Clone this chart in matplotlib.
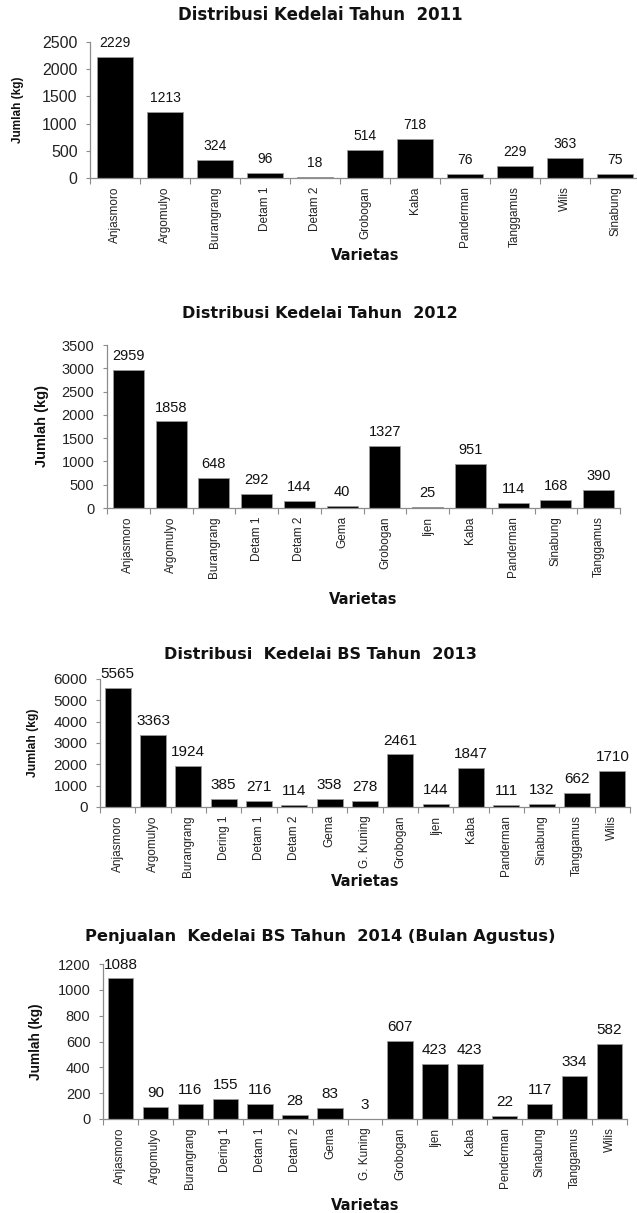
import numpy as np
import matplotlib
matplotlib.use('Agg')
import matplotlib.pyplot as plt
from matplotlib import font_manager
from matplotlib.ticker import MultipleLocator, FixedLocator, NullFormatter

W, H = 637, 1213

# --- data ---------------------------------------------------------------
var_2011 = ['Anjasmoro', 'Argomulyo', 'Burangrang', 'Detam 1', 'Detam 2', 'Grobogan',
            'Kaba', 'Panderman', 'Tanggamus', 'Wilis', 'Sinabung']
val_2011 = [2229, 1213, 324, 96, 18, 514, 718, 76, 229, 363, 75]

var_2012 = ['Anjasmoro', 'Argomulyo', 'Burangrang', 'Detam 1', 'Detam 2', 'Gema',
            'Grobogan', 'Ijen', 'Kaba', 'Panderman', 'Sinabung', 'Tanggamus']
val_2012 = [2959, 1858, 648, 292, 144, 40, 1327, 25, 951, 114, 168, 390]

var_2013 = ['Anjasmoro', 'Argomulyo', 'Burangrang', 'Dering 1', 'Detam 1', 'Detam 2',
            'Gema', 'G. Kuning', 'Grobogan', 'Ijen', 'Kaba', 'Panderman', 'Sinabung',
            'Tanggamus', 'Wilis']
val_2013 = [5565, 3363, 1924, 385, 271, 114, 358, 278, 2461, 144, 1847, 111, 132, 662, 1710]

var_2014 = ['Anjasmoro', 'Argomulyo', 'Burangrang', 'Dering 1', 'Detam 1', 'Detam 2',
            'Gema', 'G. Kuning', 'Grobogan', 'Ijen', 'Kaba', 'Penderman', 'Sinabung',
            'Tanggamus', 'Wilis']
val_2014 = [1088, 90, 116, 155, 116, 28, 83, 3, 607, 423, 423, 22, 117, 334, 582]

titles = ['Distribusi Kedelai Tahun  2011',
          'Distribusi Kedelai Tahun  2012',
          'Distribusi  Kedelai BS Tahun  2013',
          'Penjualan  Kedelai BS Tahun  2014 (Bulan Agustus)']
y_max = [2500, 3500, 6000, 1200]
y_step = [500, 500, 1000, 200]

# --- layout, in pixels: axes left/right, zero line, top line --------------
boxes = [(90, 640, 178, 42),
         (107, 620, 508, 345),
         (100, 630, 807, 679),
         (103, 627, 1119, 964)]
title_y = [15, 313, 654, 936]
xlabel_y = [256, 600, 881, 1205]
ylabel_x = [18, 42, 33, 36]

# per-panel font sizes (pt)
title_fs = [12.0, 11.5, 11.6, 11.7]
ytick_fs = [11.5, 10.5, 11.0, 10.5]
value_fs = [10.0, 10.5, 11.0, 11.0]
ylabel_fs = [8.5, 10.5, 8.7, 9.8]

TITLE_FONT = ['DejaVu Sans']
TEXT_FONT = ['Liberation Sans', 'DejaVu Sans']


def has_font(name):
    try:
        font_manager.findfont(name, fallback_to_default=False)
        return True
    except ValueError:
        return False


# condensed face for the rotated category names, if there is one
if has_font('Liberation Sans Narrow'):
    XLAB_FONT, XLAB_FS = ['Liberation Sans Narrow'], 10.0
else:
    XLAB_FONT, XLAB_FS = TEXT_FONT, 8.5


def fx(px):
    return px / W


def fy(py):
    return 1 - py / H


def draw_panel(fig, names, values, i):
    left, right, y0, ytop = boxes[i]
    ax = fig.add_axes([fx(left), fy(y0), (right - left) / W, (y0 - ytop) / H])
    x = np.arange(len(names))
    bars = ax.bar(x, values, width=0.73, color='black', edgecolor='#9a9a9a', linewidth=0.6)

    for rect, v in zip(bars, values):
        ax.annotate(str(v), (rect.get_x() + rect.get_width() / 2, rect.get_height()),
                    xytext=(0, 5), textcoords='offset points', ha='center', va='bottom',
                    fontsize=value_fs[i], family=TEXT_FONT, color='#111')

    ax.set_xlim(-0.5, len(names) - 0.5)
    ax.set_ylim(0, y_max[i])
    ax.yaxis.set_major_locator(MultipleLocator(y_step[i]))

    # labels at the bar centres, tick marks between the bars
    ax.set_xticks(x)
    ax.set_xticklabels(names, rotation=90, fontsize=XLAB_FS, family=XLAB_FONT, color='#222')
    ax.tick_params(axis='x', which='major', length=0, pad=6)
    ax.xaxis.set_minor_locator(FixedLocator(np.arange(len(names) + 1) - 0.5))
    ax.xaxis.set_minor_formatter(NullFormatter())
    ax.tick_params(axis='x', which='minor', length=4, width=0.8, color='#8c8c8c')
    ax.tick_params(axis='y', length=3, width=0.8, color='#8c8c8c', pad=6)
    for lab in ax.get_yticklabels():
        lab.set_family(TEXT_FONT)
        lab.set_fontsize(ytick_fs[i])
        lab.set_color('#222')

    for s in ['top', 'right']:
        ax.spines[s].set_visible(False)
    for s in ['left', 'bottom']:
        ax.spines[s].set_color('#8c8c8c')
        ax.spines[s].set_linewidth(0.9)

    fig.text(fx(320), fy(title_y[i]), titles[i], ha='center', va='center',
             fontsize=title_fs[i], fontweight='bold', family=TITLE_FONT, color='#111')
    fig.text(fx((left + right) / 2), fy(xlabel_y[i]),
             'Varietas', ha='center', va='center', fontsize=10.5, fontweight='bold',
             family=TITLE_FONT, color='#111')
    fig.text(fx(ylabel_x[i]), fy((y0 + ytop) / 2), 'Jumlah (kg)', rotation=90,
             ha='center', va='center', fontsize=ylabel_fs[i], fontweight='bold',
             family=TEXT_FONT, color='#111')


fig = plt.figure(figsize=(W / 100, H / 100), dpi=100)
for i, (names, values) in enumerate([(var_2011, val_2011), (var_2012, val_2012),
                                     (var_2013, val_2013), (var_2014, val_2014)]):
    draw_panel(fig, names, values, i)

fig.savefig('out.png', dpi=100)
